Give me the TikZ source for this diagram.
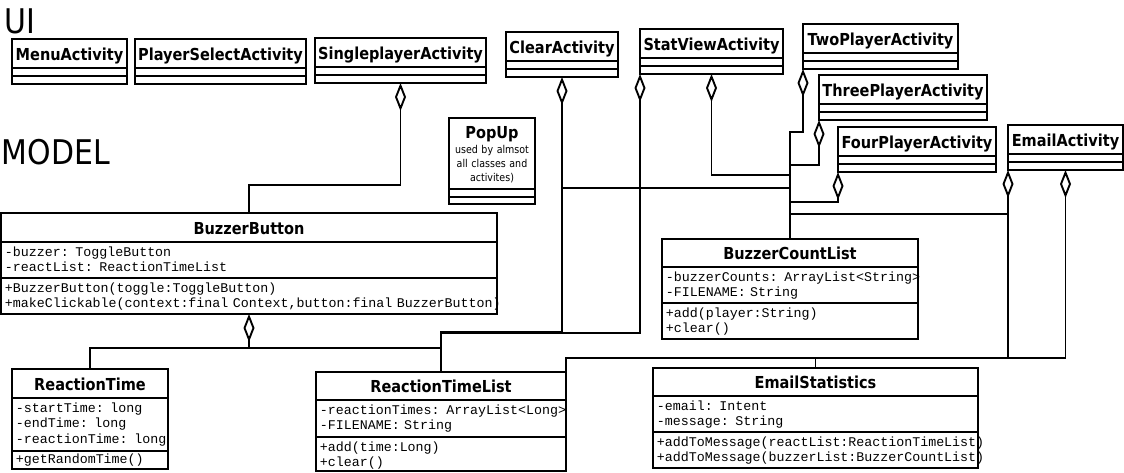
\documentclass[tikz,border=0pt]{standalone}
\usepackage{fontspec}
\setmainfont{DejaVu Sans}
\newfontfamily\tahoma[FakeStretch=0.88]{DejaVu Sans}
\newfontfamily\courier{Liberation Mono}
\usetikzlibrary{arrows.meta}

\begin{document}
\begin{tikzpicture}[x=1pt,y=-1pt,line width=1.9pt,line join=miter,
    classbox/.style={draw,anchor=north west,inner sep=0pt,outer sep=0pt},
    cname/.style={anchor=base,inner sep=0pt,font=\tahoma\bfseries\fontsize{16.5}{18}\selectfont},
    members/.style={anchor=base west,inner sep=0pt,text width=25cm,align=left,
      font=\courier\fontsize{13.3}{15.6}\selectfont},
    agg/.style={{Diamond[open,length=28pt,width=11pt]}-},
    layer/.style={anchor=base west,inner sep=0pt,font=\tahoma\fontsize{#1}{#1}\selectfont}]
    \useasboundingbox (0,0) rectangle (1124,473);
    \node[layer=34] (ui) at (4,34) {UI};
    \node[layer=34] (model) at (1,165) {MODEL};
    % activities
    \foreach \n/\x/\y/\w/\t in {menu/12/39/115/MenuActivity,
        psel/135/39/171/PlayerSelectActivity, single/315/38/171/SingleplayerActivity,
        clear/506/32/112/ClearActivity, statview/640/29/143/StatViewActivity,
        two/803/24/155/TwoPlayerActivity, three/819/75/168/ThreePlayerActivity,
        four/838/127/158/FourPlayerActivity, emailact/1008/125/115/EmailActivity}{
      \node[classbox,minimum width=\w,minimum height=45] (\n) at (\x,\y) {};
      \node[cname] (\n-name) at ([yshift=-22pt]\n.north) {\t};
      \draw ([yshift=-29pt]\n.north west) -- ([yshift=-29pt]\n.north east)
            ([yshift=-37pt]\n.north west) -- ([yshift=-37pt]\n.north east);
    }
    % popup
    \node[classbox,minimum width=86,minimum height=86] (popup) at (449,118) {};
    \node[cname] (popup-name) at ([yshift=-21pt]popup.north) {PopUp};
    \node[anchor=base,inner sep=0pt,text width=86pt,align=center,
      font=\tahoma\fontsize{10.8}{14}\selectfont] (popup-note)
      at ([yshift=-36pt]popup.north) {used by almsot\\all classes and\\activites)};
    \draw (popup.west |- 0,189) -- (popup.east |- 0,189)
          (popup.west |- 0,197) -- (popup.east |- 0,197);
    % model classes
    \node[classbox,minimum width=496,minimum height=101] (bb) at (1,213) {};
    \node[cname] (bb-name) at ([yshift=-21pt]bb.north) {BuzzerButton};
    \node[members] (bb-attr) at (4,256) {-buzzer: ToggleButton\\-reactList: ReactionTimeList};
    \node[members] (bb-ops) at (4,292)
      {+BuzzerButton(toggle:ToggleButton)\\+makeClickable(context:final Context,button:final BuzzerButton)};
    \draw (bb.west |- 0,242) -- (bb.east |- 0,242) (bb.west |- 0,278) -- (bb.east |- 0,278);

    \node[classbox,minimum width=156,minimum height=100] (rt) at (12,369) {};
    \node[cname] (rt-name) at ([yshift=-21pt]rt.north) {ReactionTime};
    \node[members] (rt-attr) at (15,412) {-startTime: long\\-endTime: long\\-reactionTime: long};
    \node[members] (rt-ops) at (15,463) {+getRandomTime()};
    \draw (rt.west |- 0,398) -- (rt.east |- 0,398) (rt.west |- 0,451) -- (rt.east |- 0,451);

    \node[classbox,minimum width=250,minimum height=99] (rtl) at (316,372) {};
    \node[cname] (rtl-name) at ([yshift=-20pt]rtl.north) {ReactionTimeList};
    \node[members] (rtl-attr) at (319,414) {-reactionTimes: ArrayList<Long>\\-FILENAME: String};
    \node[members] (rtl-ops) at (319,451) {+add(time:Long)\\+clear()};
    \draw (rtl.west |- 0,400) -- (rtl.east |- 0,400) (rtl.west |- 0,437) -- (rtl.east |- 0,437);

    \node[classbox,minimum width=256,minimum height=100] (bcl) at (662,239) {};
    \node[cname] (bcl-name) at ([yshift=-20pt]bcl.north) {BuzzerCountList};
    \node[members] (bcl-attr) at (665,281) {-buzzerCounts: ArrayList<String>\\-FILENAME: String};
    \node[members] (bcl-ops) at (665,317) {+add(player:String)\\+clear()};
    \draw (bcl.west |- 0,267) -- (bcl.east |- 0,267) (bcl.west |- 0,303) -- (bcl.east |- 0,303);

    \node[classbox,minimum width=325,minimum height=100] (es) at (653,368) {};
    \node[cname] (es-name) at ([yshift=-20pt]es.north) {EmailStatistics};
    \node[members] (es-attr) at (656,410) {-email: Intent\\-message: String};
    \node[members] (es-ops) at (656,446)
      {+addToMessage(reactList:ReactionTimeList)\\+addToMessage(buzzerList:BuzzerCountList)};
    \draw (es.west |- 0,396) -- (es.east |- 0,396) (es.west |- 0,432) -- (es.east |- 0,432);
    % aggregations
    \draw[agg] (single.south) -- ++(0,102) -| (bb.north);
    \draw[agg] (bb.south) -- ++(0,34) -| (rt.north);
    \draw (bb.south) ++(0,34) -| (rtl.north);
    \draw[agg] (clear.south) -- ++(0,255) -| (rtl.north);
    \draw (clear.south) ++(0,111) -| (bcl.north);
    \draw[agg] (statview.south west) -- ++(0,259) -| (rtl.north);
    \draw[agg] (statview.south) -- ++(0,101) -| (bcl.north);
    \draw[agg] (two.south west) -- ++(0,63) -| (bcl.north);
    \draw[agg] (three.south west) -- ++(0,45) -| (bcl.north);
    \draw[agg] (four.south west) -- ++(0,30) -| (bcl.north);
    \draw[agg] (emailact.south west) -- ++(0,188) -| (es.north);
    \draw (emailact.south west) ++(0,44) -| (bcl.north);
    \draw (emailact.south west) ++(0,188) -| (rtl.north east);
    \draw[agg] (emailact.south) -- ++(0,188) -| (es.north);
\end{tikzpicture}
\end{document}
